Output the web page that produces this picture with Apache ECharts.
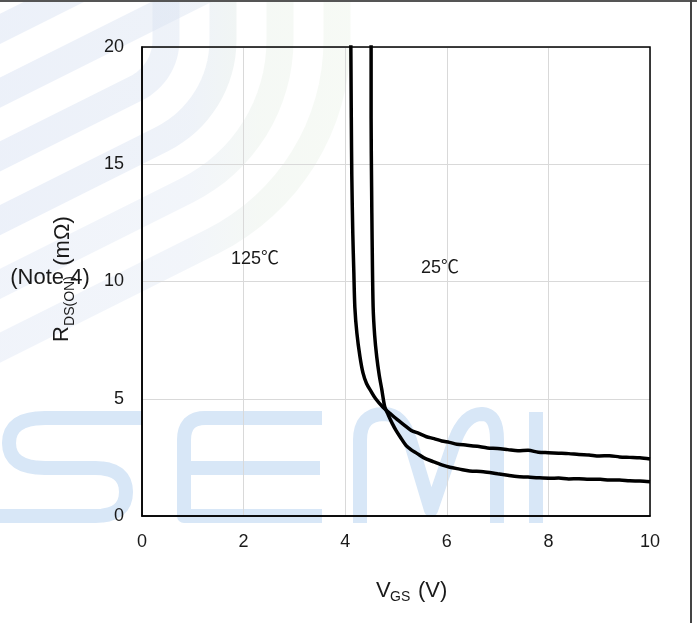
<!DOCTYPE html>
<html>
<head>
<meta charset="utf-8">
<script src="https://cdn.jsdelivr.net/npm/echarts@6/dist/echarts.min.js"></script>
<style>
html,body{margin:0;padding:0;background:#fff;}
#chart{width:697px;height:623px;}
</style>
</head>
<body>
<div id="chart"></div>
<script>
// ---- data ----
const vgs125 = [4.11,4.12,4.13,4.15,4.17,4.19,4.23,4.29,4.35,4.42,4.50,4.60,4.74,4.88,5.02,5.15,5.30,5.45,5.60,5.75,5.90,6.05,6.20,6.40,6.60,6.80,7.00,7.20,7.40,7.60,7.80,8.00,8.20,8.40,8.60,8.80,9.00,9.20,9.40,9.60,9.80,10.00];
const rds125 = [20.5,17.0,14.5,12.0,10.4,8.9,7.8,6.8,6.1,5.65,5.35,5.0,4.65,4.38,4.12,3.90,3.65,3.52,3.38,3.30,3.20,3.14,3.06,3.02,2.97,2.90,2.88,2.83,2.78,2.80,2.72,2.70,2.68,2.66,2.62,2.60,2.56,2.57,2.52,2.50,2.48,2.43];
const vgs25 = [4.51,4.51,4.52,4.53,4.55,4.58,4.62,4.67,4.72,4.78,4.85,4.92,5.00,5.08,5.20,5.30,5.41,5.55,5.73,5.90,6.06,6.25,6.45,6.72,7.00,7.20,7.38,7.60,7.80,8.03,8.20,8.40,8.60,8.80,9.02,9.20,9.40,9.60,9.80,10.00];
const rds25 = [20.5,17.0,14.0,11.8,8.9,7.7,6.8,6.0,5.4,4.65,4.30,3.97,3.65,3.38,3.00,2.82,2.67,2.48,2.32,2.18,2.08,2.00,1.92,1.89,1.80,1.74,1.68,1.66,1.63,1.61,1.62,1.58,1.59,1.57,1.57,1.53,1.54,1.50,1.49,1.46];
const curveLabels = ['125℃', '25℃'];
const xRange = [0, 10, 2];
const yRange = [0, 20, 5];

const FONT = "'Liberation Sans', Arial, 'Noto Sans CJK SC', sans-serif";
const TXT = '#1a1a1a';

function pairs(xs, ys){ return xs.map((x,i)=>[x, ys[i]]); }

// ---- watermark geometry (decoration) ----
function bandPoints(cx, cy, r){
  const pts = [];
  if (r <= 0) {
    const c = 0.447*cx + 0.894*cy + r;
    pts.push([-40, c/0.894 + 20]);
    pts.push([c/0.447 + 40, -20]);
    return pts;
  }
  pts.push([cx + r, -20]);
  pts.push([cx + r, cy]);
  const end = Math.atan2(0.894, 0.447);
  for (let k = 1; k <= 16; k++) {
    const t = end * k / 16;
    pts.push([cx + r*Math.cos(t), cy + r*Math.sin(t)]);
  }
  const p = pts[pts.length-1];
  pts.push([p[0] - 0.894*700, p[1] + 0.447*700]);
  return pts;
}
const bandGrad = {type:'linear', x:0, y:0, x2:420, y2:0, global:true, colorStops:[
  {offset:0, color:'#d5dff2'},
  {offset:0.45, color:'#dae3f1'},
  {offset:0.62, color:'#e2ece2'},
  {offset:1, color:'#ecf5e4'}
]};
const bandRadii = [-60, -3, 54, 111, 168, 225];
const bands = bandRadii.map((r, i) => ({
  type:'polyline', z:-10, silent:true,
  shape:{points: bandPoints(112, 40, r)},
  style:{fill:null, stroke: bandGrad, lineWidth: 27, opacity: i >= 4 ? 0.35 : 0.45}
}));

function quad(p0, p1, p2, n){
  const out = [];
  for (let k = 1; k <= n; k++) {
    const t = k/n, u = 1-t;
    out.push([u*u*p0[0] + 2*u*t*p1[0] + t*t*p2[0], u*u*p0[1] + 2*u*t*p1[1] + t*t*p2[1]]);
  }
  return out;
}
const semiColor = '#d8e7f7';
const semiS = [[143,418],[45,418]].concat(
  quad([45,418],[9,418],[9,443],8), quad([9,443],[9,468],[45,468],8),
  [[95,468]], quad([95,468],[126,468],[126,492],8), quad([126,492],[126,516],[95,516],8),
  [[-5,516]]);
const semiE1 = [[322,418],[205,418]].concat(quad([205,418],[184,418],[184,440],8), [[184,516],[322,516]]);
const semiE2 = [[184,468],[320,468]];
const semiM = [[360,523],[360,440]].concat(
  quad([360,440],[360,414],[384,414],8), quad([384,414],[402,414],[410,440],8),
  [[431,510],[455,440]], quad([455,440],[465,414],[482,414],8), quad([482,414],[497,414],[497,440],8),
  [[497,523]]);
const semiI = [[536,412],[536,523]];
const semi = [semiS, semiE1, semiE2, semiM, semiI].map(p => ({
  type:'polyline', z:-9, silent:true,
  shape:{points:p},
  style:{fill:null, stroke: semiColor, lineWidth: 14, lineCap:'butt', lineJoin:'round'}
}));

function txt(text, x, y, size, opts, align){
  return Object.assign({
    type:'text', x:x, y:y, z:10, silent:true,
    style:{text:text, fill:TXT, font: size + 'px ' + FONT,
           textAlign:align || 'center', textVerticalAlign:'middle'}
  }, opts || {});
}

const chart = echarts.init(document.getElementById('chart'), null, {renderer:'canvas'});
chart.setOption({
  animation:false,
  backgroundColor:'#ffffff',
  grid:{left:142, right:47, top:47, bottom:107, show:true, borderColor:'#000', borderWidth:1.5, backgroundColor:'transparent', z:3},
  xAxis:{
    type:'value', min:xRange[0], max:xRange[1], interval:xRange[2],
    axisLine:{show:true, lineStyle:{color:'#000', width:1.5}},
    axisTick:{show:false},
    splitLine:{show:true, lineStyle:{color:'#d9d9d9', width:1}},
    axisLabel:{color:TXT, fontSize:18, fontFamily:FONT, margin:17}
  },
  yAxis:{
    type:'value', min:yRange[0], max:yRange[1], interval:yRange[2],
    axisLine:{show:true, lineStyle:{color:'#000', width:1.5}},
    axisTick:{show:false},
    splitLine:{show:true, lineStyle:{color:'#d9d9d9', width:1}},
    axisLabel:{color:TXT, fontSize:18, fontFamily:FONT, margin:18}
  },
  series:[
    {name:curveLabels[0], type:'line', data:pairs(vgs125, rds125), showSymbol:false, smooth:0.3,
     lineStyle:{color:'#000', width:3.5}, clip:true, z:5},
    {name:curveLabels[1], type:'line', data:pairs(vgs25, rds25), showSymbol:false, smooth:0.3,
     lineStyle:{color:'#000', width:3.5}, clip:true, z:5}
  ],
  graphic:{elements: [].concat(bands, semi, [
    txt(curveLabels[0], 255, 259, 18),
    txt(curveLabels[1], 440, 268, 18),
    txt('R', 62, 334, 22, {rotation:Math.PI/2}),
    txt('DS(ON)', 70, 301, 14, {rotation:Math.PI/2}),
    txt('(mΩ)', 63, 241, 22, {rotation:Math.PI/2}),
    txt('(Note 4)', 50, 278, 22),
    txt('V', 376, 591, 22, null, 'left'),
    txt('GS', 390, 597, 14, null, 'left'),
    txt('(V)', 418, 591, 22, null, 'left'),
    {type:'rect', z:20, silent:true, shape:{x:0, y:0, width:697, height:2}, style:{fill:'#555'}},
    {type:'rect', z:20, silent:true, shape:{x:690, y:0, width:2, height:623}, style:{fill:'#444'}}
  ])}
});
</script>
</body>
</html>
